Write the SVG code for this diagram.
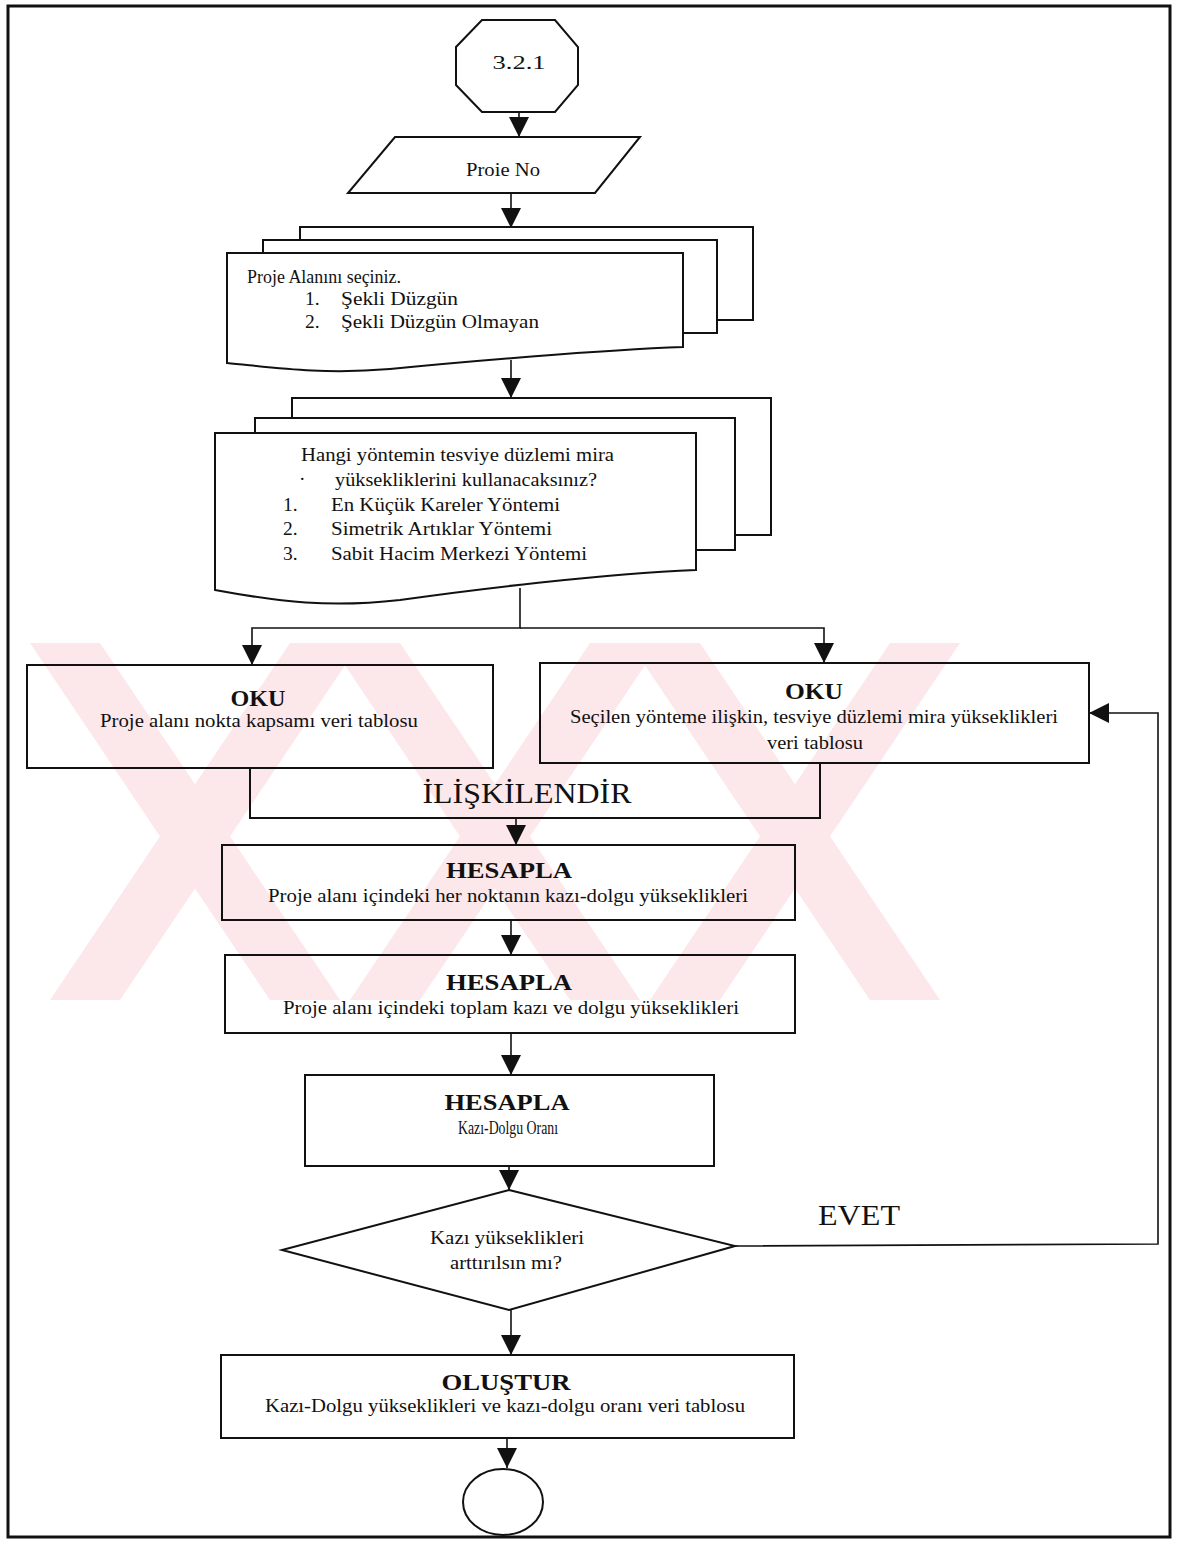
<svg xmlns="http://www.w3.org/2000/svg" width="1178" height="1544" viewBox="0 0 1178 1544">
<style>
.box{fill:none;stroke:#111;stroke-width:2}
.sheet{fill:#fff;stroke:#111;stroke-width:2}
.ln{fill:none;stroke:#111;stroke-width:1.6}
.t{font-family:"Liberation Serif","Times New Roman",serif;font-size:19.5px;fill:#111}
.b{font-family:"Liberation Serif","Times New Roman",serif;font-size:24px;font-weight:bold;fill:#111}
.big{font-family:"Liberation Serif","Times New Roman",serif;font-size:30px;fill:#111}
.wm{fill:#fce7ea}
</style>
<defs>
<marker id="ah" markerUnits="userSpaceOnUse" markerWidth="20" markerHeight="22" viewBox="0 0 20 22" refX="20" refY="11" orient="auto">
<path d="M0,1 L20,11 L0,21 Z" fill="#111"/>
</marker>
</defs>
<rect width="1178" height="1544" fill="#fff"/>
<g id="watermark">
<polygon class="wm" points="30,643 100,643 340,1000 270,1000"/>
<polygon class="wm" points="290,643 360,643 120,1000 50,1000"/>
<polygon class="wm" points="330,643 400,643 640,1000 570,1000"/>
<polygon class="wm" points="590,643 660,643 420,1000 350,1000"/>
<polygon class="wm" points="630,643 700,643 940,1000 870,1000"/>
<polygon class="wm" points="890,643 960,643 720,1000 650,1000"/>
</g>
<rect id="frame" x="8" y="6" width="1162" height="1531" fill="none" stroke="#111" stroke-width="3"/>
<g id="connectors">
<line class="ln" x1="519" y1="112" x2="519" y2="137" marker-end="url(#ah)"/>
<line class="ln" x1="511" y1="193" x2="511" y2="228" marker-end="url(#ah)"/>
<line class="ln" x1="511" y1="360" x2="511" y2="398" marker-end="url(#ah)"/>
<polyline class="ln" points="520,588 520,628 252,628 252,665" marker-end="url(#ah)"/>
<polyline class="ln" points="520,628 824,628 824,663" marker-end="url(#ah)"/>
<line class="ln" x1="516" y1="818" x2="516" y2="845" marker-end="url(#ah)"/>
<line class="ln" x1="511" y1="920" x2="511" y2="955" marker-end="url(#ah)"/>
<line class="ln" x1="511" y1="1033" x2="511" y2="1075" marker-end="url(#ah)"/>
<line class="ln" x1="509" y1="1166" x2="509" y2="1190" marker-end="url(#ah)"/>
<polyline class="ln" points="735,1246 1158,1244 1158,713 1089,713" marker-end="url(#ah)"/>
<line class="ln" x1="511" y1="1310" x2="511" y2="1355" marker-end="url(#ah)"/>
<line class="ln" x1="507" y1="1438" x2="507" y2="1468" marker-end="url(#ah)"/>
</g>
<g id="start">
<polygon class="box" points="482,20 555,20 578,47 578,85 555,112 482,112 456,85 456,47"/>
<text class="t" x="519" y="69" text-anchor="middle" font-size="26" textLength="53" lengthAdjust="spacingAndGlyphs">3.2.1</text>
</g>
<g id="proje-no">
<polygon class="box" points="395,137 640,137 595,193 348,193"/>
<text class="t" x="503" y="176" text-anchor="middle" font-size="20" textLength="74" lengthAdjust="spacingAndGlyphs">Proie No</text>
</g>
<g id="doc-alan">
<rect class="sheet" x="300" y="227" width="453" height="93"/>
<rect class="sheet" x="263" y="240" width="454" height="93"/>
<path class="sheet" d="M227,253 H683 V347 C600,350 460,362 390,369 C320,375 270,367 227,363 Z"/>
<text class="t" x="247" y="283" font-size="18" textLength="154" lengthAdjust="spacingAndGlyphs">Proje Alanını seçiniz.</text>
<text class="t" x="305" y="305">1.</text>
<text class="t" x="341" y="305" textLength="117" lengthAdjust="spacingAndGlyphs">Şekli Düzgün</text>
<text class="t" x="305" y="328">2.</text>
<text class="t" x="341" y="328" textLength="198" lengthAdjust="spacingAndGlyphs">Şekli Düzgün Olmayan</text>
</g>
<g id="doc-yontem">
<rect class="sheet" x="292" y="398" width="479" height="137"/>
<rect class="sheet" x="255" y="418" width="480" height="132"/>
<path class="sheet" d="M215,433 H696 V570 C600,574 470,590 400,600 C330,608 280,602 215,590 Z"/>
<text class="t" x="301" y="461" textLength="313" lengthAdjust="spacingAndGlyphs">Hangi yöntemin tesviye düzlemi mira</text>
<text class="t" x="299" y="485">·</text>
<text class="t" x="335" y="486" textLength="262" lengthAdjust="spacingAndGlyphs">yüksekliklerini kullanacaksınız?</text>
<text class="t" x="283" y="511">1.</text>
<text class="t" x="331" y="511" textLength="229" lengthAdjust="spacingAndGlyphs">En Küçük Kareler Yöntemi</text>
<text class="t" x="283" y="535">2.</text>
<text class="t" x="331" y="535" textLength="221" lengthAdjust="spacingAndGlyphs">Simetrik Artıklar Yöntemi</text>
<text class="t" x="283" y="560">3.</text>
<text class="t" x="331" y="560" textLength="256" lengthAdjust="spacingAndGlyphs">Sabit Hacim Merkezi Yöntemi</text>
</g>
<g id="oku-left">
<rect class="box" x="27" y="665" width="466" height="103"/>
<text class="b" x="258" y="706" text-anchor="middle" textLength="55" lengthAdjust="spacingAndGlyphs">OKU</text>
<text class="t" x="259" y="727" text-anchor="middle" textLength="318" lengthAdjust="spacingAndGlyphs">Proje alanı nokta kapsamı veri tablosu</text>
</g>
<g id="oku-right">
<rect class="box" x="540" y="663" width="549" height="100"/>
<text class="b" x="814" y="699" text-anchor="middle" textLength="58" lengthAdjust="spacingAndGlyphs">OKU</text>
<text class="t" x="814" y="723" text-anchor="middle" textLength="488" lengthAdjust="spacingAndGlyphs">Seçilen yönteme ilişkin, tesviye düzlemi mira yükseklikleri</text>
<text class="t" x="815" y="749" text-anchor="middle" textLength="96" lengthAdjust="spacingAndGlyphs">veri tablosu</text>
</g>
<g id="iliskilendir">
<polyline class="box" points="250,768 250,818 820,818 820,763"/>
<text class="big" x="527" y="803" text-anchor="middle" textLength="209" lengthAdjust="spacingAndGlyphs">İLİŞKİLENDİR</text>
</g>
<g id="hesapla-1">
<rect class="box" x="222" y="845" width="573" height="75"/>
<text class="b" x="509" y="878" text-anchor="middle" textLength="126" lengthAdjust="spacingAndGlyphs">HESAPLA</text>
<text class="t" x="508" y="902" text-anchor="middle" textLength="480" lengthAdjust="spacingAndGlyphs">Proje alanı içindeki her noktanın kazı-dolgu yükseklikleri</text>
</g>
<g id="hesapla-2">
<rect class="box" x="225" y="955" width="570" height="78"/>
<text class="b" x="509" y="990" text-anchor="middle" textLength="126" lengthAdjust="spacingAndGlyphs">HESAPLA</text>
<text class="t" x="511" y="1014" text-anchor="middle" textLength="456" lengthAdjust="spacingAndGlyphs">Proje alanı içindeki toplam kazı ve dolgu yükseklikleri</text>
</g>
<g id="hesapla-3">
<rect class="box" x="305" y="1075" width="409" height="91"/>
<text class="b" x="507" y="1110" text-anchor="middle" textLength="125" lengthAdjust="spacingAndGlyphs">HESAPLA</text>
<text class="t" x="508" y="1134" text-anchor="middle" font-size="17" textLength="100" lengthAdjust="spacingAndGlyphs">Kazı-Dolgu Oranı</text>
</g>
<g id="karar">
<polygon class="box" points="509,1190 735,1246 509,1310 282,1250"/>
<text class="t" x="507" y="1244" text-anchor="middle" font-size="18" textLength="154" lengthAdjust="spacingAndGlyphs">Kazı yükseklikleri</text>
<text class="t" x="506" y="1269" text-anchor="middle" font-size="18" textLength="112" lengthAdjust="spacingAndGlyphs">arttırılsın mı?</text>
<text class="big" x="818" y="1225" font-size="29" textLength="82" lengthAdjust="spacingAndGlyphs">EVET</text>
</g>
<g id="olustur">
<rect class="box" x="221" y="1355" width="573" height="83"/>
<text class="b" x="506" y="1390" text-anchor="middle" textLength="129" lengthAdjust="spacingAndGlyphs">OLUŞTUR</text>
<text class="t" x="505" y="1412" text-anchor="middle" textLength="480" lengthAdjust="spacingAndGlyphs">Kazı-Dolgu yükseklikleri ve kazı-dolgu oranı veri tablosu</text>
</g>
<g id="end">
<ellipse class="box" cx="503" cy="1502" rx="40" ry="33"/>
</g>
</svg>
